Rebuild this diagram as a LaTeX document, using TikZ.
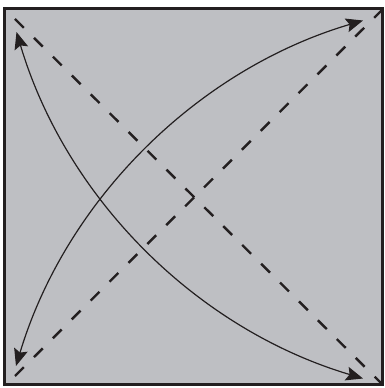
\documentclass[tikz,border=0pt]{standalone}
\usetikzlibrary{arrows.meta}
\definecolor{panelgray}{RGB}{190,191,195}
\definecolor{inkdark}{RGB}{35,31,32}
\begin{document}
\begin{tikzpicture}[x=1pt,y=1pt,
  frame/.style={draw=inkdark,line width=2.4pt,fill=panelgray},
  diag/.style={draw=inkdark,line width=2.4pt,dash pattern=on 12.5pt off 14.2pt},
  swing/.style={draw=inkdark,line width=1.2pt,
    {Stealth[length=17pt,width=14pt,inset=3pt]}-{Stealth[length=17pt,width=14pt,inset=3pt]}}]
\useasboundingbox (0,0) rectangle (385,388);
\draw[frame] (4.3,3.5) rectangle (382.3,379.3);
% dashed diagonals
\coordinate (d1s) at (15,369);
\coordinate (d1e) at (382,4);
\coordinate (d2s) at (15,12);
\coordinate (d2e) at (382,378);
\draw[diag] (d1s) -- (d1e);
\draw[diag] (d2s) -- (d2e);
% curved double arrows
\coordinate (A) at (16.5,356);
\coordinate (B) at (363,9.5);
\coordinate (C) at (16,22);
\coordinate (D) at (363,367.5);
\draw[swing] (A) to[bend right=28.4,looseness=0.906] (B);
\draw[swing] (C) to[bend left=28.4,looseness=0.906] (D);
\end{tikzpicture}
\end{document}
